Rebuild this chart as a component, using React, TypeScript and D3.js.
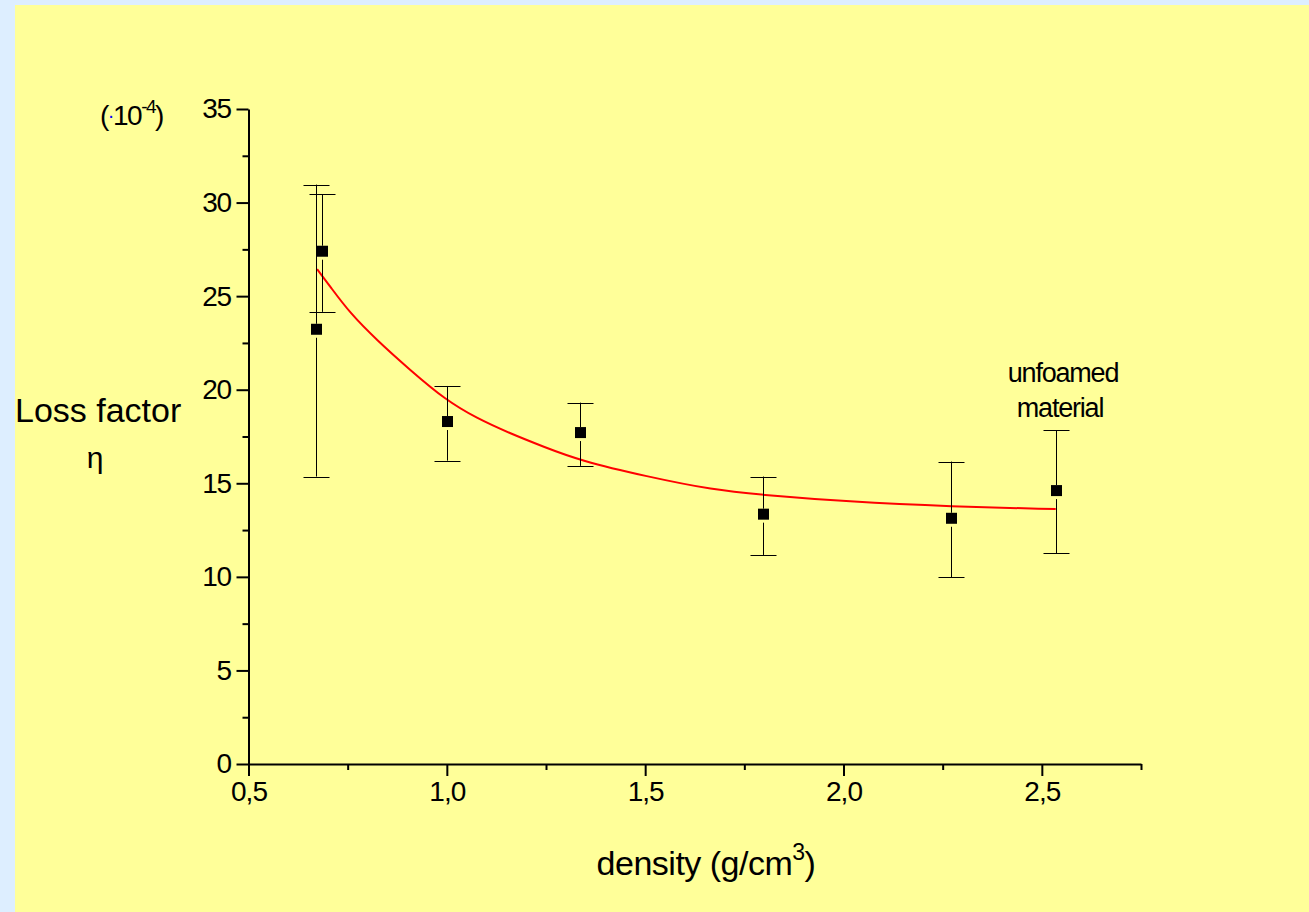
import { useRef, useEffect } from 'react'
import * as d3 from 'd3'

// measured points (density in g/cm3, loss factor in 1e-4)
const density = [0.67, 0.685, 1.0, 1.335, 1.796, 2.27, 2.535]
const lossFactor = [23.23, 27.4, 18.3, 17.71, 13.35, 13.13, 14.61]
const errUpper = [30.96, 30.45, 20.2, 19.31, 15.36, 16.16, 17.83]
const errLower = [15.36, 24.16, 16.21, 15.93, 11.17, 9.99, 11.26]

// red fit curve
const fitX = [0.673, 0.706, 0.756, 0.823, 0.907, 0.997, 1.075, 1.159, 1.243, 1.336, 1.504, 1.672, 1.796, 2.008, 2.273, 2.535]
const fitY = [26.44, 25.51, 24.09, 22.66, 21.06, 19.45, 18.48, 17.67, 16.96, 16.21, 15.36, 14.64, 14.38, 14.02, 13.75, 13.62]

const xMajor = [0.5, 1.0, 1.5, 2.0, 2.5]
const xMajorLabels = ['0,5', '1,0', '1,5', '2,0', '2,5']
const xMinor = [0.75, 1.25, 1.75, 2.25, 2.75]
const yMajor = [0, 5, 10, 15, 20, 25, 30, 35]
const yMinor = [2.5, 7.5, 12.5, 17.5, 22.5, 27.5, 32.5]

const FONT = "'Liberation Sans', Arial, sans-serif"

export default function App() {
  const svgRef = useRef<SVGSVGElement>(null)

  useEffect(() => {
    document.body.style.margin = '0'
    const svg = svgRef.current
    if (!svg) return
    const W = 1309
    const H = 912

    const sel = d3.select(svg)
    sel.selectAll('*').remove()
    sel.attr('width', W).attr('height', H)

    sel.append('rect').attr('width', W).attr('height', H).attr('fill', '#DDEEFF')
    sel.append('rect').attr('x', 15).attr('y', 5).attr('width', W - 15).attr('height', H - 5).attr('fill', '#FFFF99')

    const xScale = d3.scaleLinear().domain([0.5, 2.75]).range([248.5, 1141])
    const yScale = d3.scaleLinear().domain([0, 35]).range([764, 109])

    // minor ticks first (no labels)
    const xMinorAxis = d3.axisBottom(xScale).tickValues(xMinor).tickSize(6).tickSizeOuter(0).tickFormat(() => '')
    const gxm = sel.append('g').attr('transform', `translate(0,${yScale(0)})`).call(xMinorAxis)
    gxm.select('.domain').remove()
    gxm.selectAll('line').attr('stroke', '#000').attr('stroke-width', 2)

    const yMinorAxis = d3.axisLeft(yScale).tickValues(yMinor).tickSize(6).tickSizeOuter(0).tickFormat(() => '')
    const gym = sel.append('g').attr('transform', `translate(${xScale(0.5)},0)`).call(yMinorAxis)
    gym.select('.domain').remove()
    gym.selectAll('line').attr('stroke', '#000').attr('stroke-width', 2)

    const xAxis = d3.axisBottom(xScale).tickValues(xMajor).tickSize(12).tickSizeOuter(0).tickPadding(5)
      .tickFormat((d, i) => xMajorLabels[i])
    const gx = sel.append('g').attr('transform', `translate(0,${yScale(0)})`).call(xAxis)
    gx.select('.domain').attr('stroke', '#000').attr('stroke-width', 2)
    gx.selectAll('line').attr('stroke', '#000').attr('stroke-width', 2)
    gx.selectAll('text').attr('fill', '#000').attr('font-size', 28).attr('font-family', FONT).attr('letter-spacing', -1)

    const yAxis = d3.axisLeft(yScale).tickValues(yMajor).tickSize(12).tickSizeOuter(0).tickPadding(6)
      .tickFormat((d) => String(d))
    const gy = sel.append('g').attr('transform', `translate(${xScale(0.5)},0)`).call(yAxis)
    gy.select('.domain').attr('stroke', '#000').attr('stroke-width', 2)
    gy.selectAll('line').attr('stroke', '#000').attr('stroke-width', 2)
    gy.selectAll('text').attr('fill', '#000').attr('font-size', 28).attr('font-family', FONT).attr('letter-spacing', -1.5)

    // fit curve
    const line = d3.line<number>()
      .x((d, i) => xScale(fitX[i]))
      .y((d) => yScale(d))
      .curve(d3.curveBasis)
    sel.append('path').datum(fitY).attr('fill', 'none').attr('stroke', '#FF0000').attr('stroke-width', 2).attr('d', line)

    // error bars and squares
    const half = 5.5
    const cap = 13
    density.forEach((dx, i) => {
      const cx = Math.round(xScale(dx)) + 0.5
      const cy = yScale(lossFactor[i])
      const yt = yScale(errUpper[i])
      const yb = yScale(errLower[i])
      const g = sel.append('g').attr('stroke', '#000').attr('stroke-width', 1)
      g.append('line').attr('x1', cx).attr('x2', cx).attr('y1', yt).attr('y2', cy - half)
      g.append('line').attr('x1', cx).attr('x2', cx).attr('y1', cy + half + 3).attr('y2', yb)
      g.append('line').attr('x1', cx - cap).attr('x2', cx + cap).attr('y1', Math.round(yt) + 0.5).attr('y2', Math.round(yt) + 0.5)
      g.append('line').attr('x1', cx - cap).attr('x2', cx + cap).attr('y1', Math.round(yb) + 0.5).attr('y2', Math.round(yb) + 0.5)
      sel.append('rect')
        .attr('x', cx - half).attr('y', cy - half)
        .attr('width', half * 2).attr('height', half * 2)
        .attr('fill', '#000')
    })

    // texts
    const t = (x: number, y: number, size: number, anchor: string, txt: string) =>
      sel.append('text').attr('x', x).attr('y', y).attr('font-size', size).attr('font-family', FONT)
        .attr('text-anchor', anchor).attr('fill', '#000').text(txt)

    const unit = sel.append('text').attr('x', 100).attr('y', 125).attr('font-size', 28)
      .attr('font-family', FONT).attr('fill', '#000').attr('letter-spacing', -1.5)
    unit.append('tspan').text('(')
    unit.append('tspan').attr('fill', '#0000FF').attr('font-size', 20).attr('dy', -3).text('·')
    unit.append('tspan').attr('dy', 3).text('10')
    unit.append('tspan').attr('font-size', 19).attr('dy', -12).text('-4')
    unit.append('tspan').attr('dy', 12).text(')')

    t(15, 422, 34, 'start', 'Loss factor')
    t(95, 468, 30, 'middle', 'η')

    t(1063, 382, 27, 'middle', 'unfoamed').attr('letter-spacing', -1.2)
    t(1060, 417, 27, 'middle', 'material').attr('letter-spacing', -1.2)

    const xl = sel.append('text').attr('x', 706).attr('y', 875).attr('font-size', 34)
      .attr('font-family', FONT).attr('fill', '#000').attr('text-anchor', 'middle').attr('letter-spacing', -0.5)
    xl.append('tspan').text('density (g/cm')
    xl.append('tspan').attr('font-size', 23).attr('dy', -15).text('3')
    xl.append('tspan').attr('dy', 15).text(')')
  }, [])

  return <svg ref={svgRef} style={{ display: 'block' }} />
}
